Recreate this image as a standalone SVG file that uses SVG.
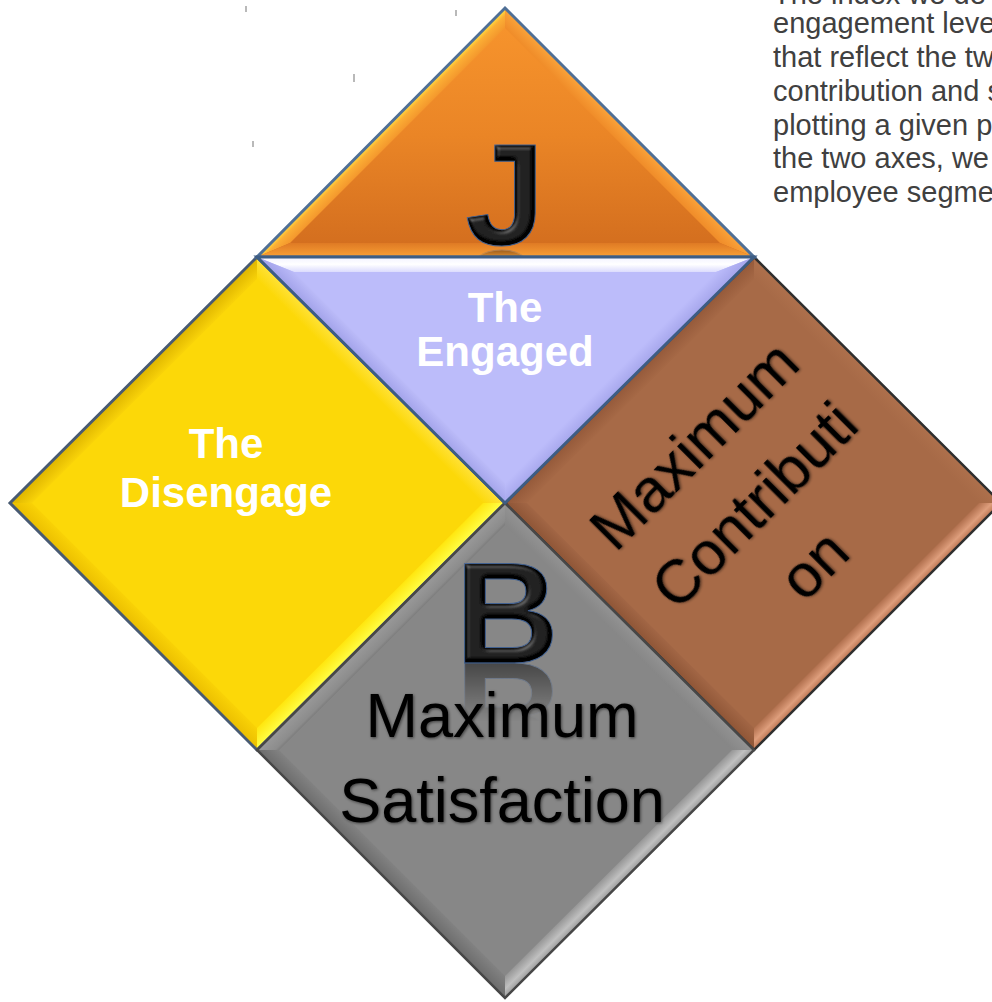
<svg xmlns="http://www.w3.org/2000/svg" xmlns:xlink="http://www.w3.org/1999/xlink" width="992" height="1002" viewBox="0 0 992 1002">
  <style>
    .lbl-w { font-family: "Liberation Sans", Arial, sans-serif; font-weight: bold; font-size: 42px; fill: #ffffff; text-anchor: middle; }
    .lbl-k { font-family: "Liberation Sans", Arial, sans-serif; font-size: 63px; fill: #000000; text-anchor: middle; }
    .lbl-r { font-family: "Liberation Sans", Arial, sans-serif; font-size: 61px; fill: #000000; text-anchor: middle; }
    .glyph { font-family: "Liberation Sans", Arial, sans-serif; font-weight: bold; font-size: 144px; text-anchor: middle; fill: #020202; stroke: #3f5f8f; stroke-width: 1; }
    .para { font-family: "Liberation Sans", Arial, sans-serif; font-size: 29px; fill: #404040; }
    .tick { stroke: #8a8a8a; stroke-width: 1.2; }
  </style>
  <defs>
    <!-- bevelled 3D letters -->
    <filter id="glyphBevel" x="-20%" y="-20%" width="140%" height="140%">
      <feGaussianBlur in="SourceAlpha" stdDeviation="2.5" result="blur"/>
      <feSpecularLighting in="blur" surfaceScale="4" specularConstant="0.8" specularExponent="20" lighting-color="#9a9a9a" result="spec">
        <feDistantLight azimuth="235" elevation="40"/>
      </feSpecularLighting>
      <feComposite in="spec" in2="SourceAlpha" operator="in" result="specIn"/>
      <feComposite in="SourceGraphic" in2="specIn" operator="arithmetic" k1="0" k2="1" k3="0.4" k4="0"/>
    </filter>
    <filter id="softShadow" x="-10%" y="-20%" width="120%" height="140%">
      <feGaussianBlur in="SourceAlpha" stdDeviation="1.6"/>
      <feOffset dx="1" dy="1" result="off"/>
      <feComponentTransfer in="off" result="sh"><feFuncA type="linear" slope="0.55"/></feComponentTransfer>
      <feMerge><feMergeNode in="sh"/><feMergeNode in="SourceGraphic"/></feMerge>
    </filter>
    <linearGradient id="fadeDown" x1="0" y1="0" x2="0" y2="1">
      <stop offset="0" stop-color="#ffffff" stop-opacity="0.6"/>
      <stop offset="1" stop-color="#ffffff" stop-opacity="0"/>
    </linearGradient>
    <mask id="maskJ" maskUnits="userSpaceOnUse" x="440" y="246" width="130" height="20">
      <rect x="440" y="246" width="130" height="14" fill="url(#fadeDown)"/>
    </mask>
    <mask id="maskB" maskUnits="userSpaceOnUse" x="440" y="662" width="140" height="70">
      <rect x="440" y="662" width="140" height="60" fill="url(#fadeDown)"/>
    </mask>

    <!-- orange triangle -->
    <linearGradient id="oBody" gradientUnits="userSpaceOnUse" x1="0" y1="28" x2="0" y2="243">
      <stop offset="0" stop-color="#F6932C"/>
      <stop offset="0.5" stop-color="#EA8526"/>
      <stop offset="1" stop-color="#D46F1F"/>
    </linearGradient>
    <linearGradient id="oLeft" gradientUnits="userSpaceOnUse" x1="381" y1="132.5" x2="391" y2="142.5">
      <stop offset="0" stop-color="#FFE040"/>
      <stop offset="0.35" stop-color="#FBAE35"/>
      <stop offset="1" stop-color="#F4962C"/>
    </linearGradient>
    <linearGradient id="oRight" gradientUnits="userSpaceOnUse" x1="629.5" y1="132.5" x2="619.6" y2="142.4">
      <stop offset="0" stop-color="#FAA33A"/>
      <stop offset="1" stop-color="#F08C29"/>
    </linearGradient>
    <linearGradient id="oBase" gradientUnits="userSpaceOnUse" x1="0" y1="243" x2="0" y2="257">
      <stop offset="0" stop-color="#DF7A24"/>
      <stop offset="1" stop-color="#F9A035"/>
    </linearGradient>

    <!-- lavender triangle -->
    <linearGradient id="lTop" gradientUnits="userSpaceOnUse" x1="0" y1="258" x2="0" y2="276">
      <stop offset="0" stop-color="#F4F4FF"/>
      <stop offset="0.35" stop-color="#FFFFFF"/>
      <stop offset="1" stop-color="#C9C9FC"/>
    </linearGradient>
    <linearGradient id="lLeft" gradientUnits="userSpaceOnUse" x1="381" y1="380" x2="391.6" y2="369.4">
      <stop offset="0" stop-color="#A2A2EA"/>
      <stop offset="1" stop-color="#BBBBF8"/>
    </linearGradient>
    <linearGradient id="lRight" gradientUnits="userSpaceOnUse" x1="629.5" y1="380" x2="618.9" y2="369.4">
      <stop offset="0" stop-color="#A6A6EC"/>
      <stop offset="1" stop-color="#BCBCFA"/>
    </linearGradient>

    <!-- yellow diamond faces -->
    <linearGradient id="yUL" x1=".5" y1=".5" x2=".545" y2=".545"><stop offset="0" stop-color="#DDB400"/><stop offset="1" stop-color="#F9D309"/></linearGradient>
    <linearGradient id="yUR" x1=".5" y1=".5" x2=".455" y2=".545"><stop offset="0" stop-color="#FFE23A"/><stop offset="1" stop-color="#FCD808"/></linearGradient>
    <linearGradient id="yLR" x1=".5" y1=".5" x2=".455" y2=".455"><stop offset="0" stop-color="#FFFF48"/><stop offset="1" stop-color="#FFE60E"/></linearGradient>
    <linearGradient id="yLL" x1=".5" y1=".5" x2=".545" y2=".455"><stop offset="0" stop-color="#EBBE00"/><stop offset="1" stop-color="#F9D206"/></linearGradient>

    <!-- brown diamond faces -->
    <linearGradient id="bUL" x1=".5" y1=".5" x2=".545" y2=".545"><stop offset="0" stop-color="#94593A"/><stop offset="1" stop-color="#A66946"/></linearGradient>
    <linearGradient id="bUR" x1=".5" y1=".5" x2=".455" y2=".545"><stop offset="0" stop-color="#AE704C"/><stop offset="1" stop-color="#A76A47"/></linearGradient>
    <linearGradient id="bLR" x1=".5" y1=".5" x2=".455" y2=".455"><stop offset="0" stop-color="#BC7652"/><stop offset="0.4" stop-color="#DE9E7C"/><stop offset="1" stop-color="#B06F4D"/></linearGradient>
    <linearGradient id="bLL" x1=".5" y1=".5" x2=".545" y2=".455"><stop offset="0" stop-color="#8E5536"/><stop offset="1" stop-color="#A26645"/></linearGradient>

    <!-- grey diamond faces -->
    <linearGradient id="gUL" x1=".5" y1=".5" x2=".545" y2=".545"><stop offset="0" stop-color="#999999"/><stop offset="0.8" stop-color="#8C8C8C"/><stop offset="1" stop-color="#7C7C7C"/></linearGradient>
    <linearGradient id="gUR" x1=".5" y1=".5" x2=".455" y2=".545"><stop offset="0" stop-color="#939393"/><stop offset="1" stop-color="#868686"/></linearGradient>
    <linearGradient id="gLR" x1=".5" y1=".5" x2=".455" y2=".455"><stop offset="0" stop-color="#9C9C9C"/><stop offset="0.4" stop-color="#C0C0C0"/><stop offset="1" stop-color="#959595"/></linearGradient>
    <linearGradient id="gLL" x1=".5" y1=".5" x2=".545" y2=".455"><stop offset="0" stop-color="#6C6C6C"/><stop offset="1" stop-color="#828282"/></linearGradient>
  </defs>

  <!-- paragraph at the top right -->
  <g id="caption">
    <text class="para" x="773" y="4">The index we de</text>
    <text class="para" x="773" y="33">engagement leve</text>
    <text class="para" x="773" y="67">that reflect the tw</text>
    <text class="para" x="773" y="101">contribution and s</text>
    <text class="para" x="773" y="135">plotting a given p</text>
    <text class="para" x="773" y="168">the two axes, we</text>
    <text class="para" x="773" y="202">employee segme</text>
  </g>

  <!-- stray marks -->
  <g id="marks">
    <line class="tick" x1="246" y1="6" x2="246" y2="12"/>
    <line class="tick" x1="456" y1="10" x2="456" y2="16"/>
    <line class="tick" x1="354" y1="74" x2="354" y2="82"/>
    <line class="tick" x1="253" y1="141" x2="253" y2="147"/>
  </g>

  <!-- left diamond: The Disengage -->
  <g id="disengaged">
    <polygon points="257,257 505,503 257,750 10,503" fill="#FCD808"/>
    <polygon points="10,503 257,257 257,279 32,503" fill="url(#yUL)"/>
    <polygon points="257,257 505,503 483,503 257,279" fill="url(#yUR)"/>
    <polygon points="505,503 257,750 257,728 483,503" fill="url(#yLR)"/>
    <polygon points="257,750 10,503 32,503 257,728" fill="url(#yLL)"/>
    <polygon points="257,257 505,503 257,750 10,503" fill="none" stroke="#485A72" stroke-width="3" stroke-linejoin="miter"/>
    <text class="lbl-w" x="226" y="458">The</text>
    <text class="lbl-w" x="226" y="507">Disengage</text>
  </g>

  <!-- right diamond: Maximum Contribution -->
  <g id="contribution">
    <polygon points="754,257 1001,503 754,750 505,503" fill="#A76A47"/>
    <polygon points="505,503 754,257 754,279 527,503" fill="url(#bUL)"/>
    <polygon points="754,257 1001,503 979,503 754,279" fill="url(#bUR)"/>
    <polygon points="1001,503 754,750 754,728 979,503" fill="url(#bLR)"/>
    <polygon points="754,750 505,503 527,503 754,728" fill="url(#bLL)"/>
    <polygon points="754,257 1001,503 754,750 505,503" fill="none" stroke="#2E2E2E" stroke-width="2.5"/>
    <g transform="rotate(-45 752 503)" filter="url(#softShadow)">
      <text class="lbl-r" x="752" y="442">Maximum</text>
      <text class="lbl-r" x="752" y="527">Contributi</text>
      <text class="lbl-r" x="752" y="611">on</text>
    </g>
  </g>

  <!-- bottom diamond: Maximum Satisfaction -->
  <g id="satisfaction">
    <polygon points="505,503 754,750 505,998 257,750" fill="#878787"/>
    <polygon points="257,750 505,503 505,525 279,750" fill="url(#gUL)"/>
    <polygon points="505,503 754,750 732,750 505,525" fill="url(#gUR)"/>
    <polygon points="754,750 505,998 505,976 732,750" fill="url(#gLR)"/>
    <polygon points="505,998 257,750 279,750 505,976" fill="url(#gLL)"/>
    <polygon points="505,503 754,750 505,998 257,750" fill="none" stroke="#474747" stroke-width="2.5"/>
    <text id="glyphB" class="glyph" x="507" y="663" filter="url(#glyphBevel)">B</text>
    <g mask="url(#maskB)" opacity="0.8">
      <use xlink:href="#glyphB" transform="translate(0 1326) scale(1 -1)"/>
    </g>
    <g filter="url(#softShadow)">
      <text class="lbl-k" x="502" y="737">Maximum</text>
      <text class="lbl-k" x="502" y="822">Satisfaction</text>
    </g>
  </g>

  <!-- top triangle: J -->
  <g id="top-j">
    <polygon points="505,8 754,257 257,257" fill="url(#oBody)"/>
    <polygon points="505,8 257,257 290,243 505,28" fill="url(#oLeft)"/>
    <polygon points="505,8 754,257 720,243 505,28" fill="url(#oRight)"/>
    <polygon points="257,257 754,257 720,243 290,243" fill="url(#oBase)"/>
    <polygon points="505,8 754,257 257,257" fill="none" stroke="#4F6F96" stroke-width="3"/>
    <text id="glyphJ" class="glyph" x="505" y="245" filter="url(#glyphBevel)">J</text>
    <g mask="url(#maskJ)" opacity="0.8">
      <use xlink:href="#glyphJ" transform="translate(0 496) scale(1 -1)"/>
    </g>
  </g>

  <!-- middle triangle: The Engaged -->
  <g id="engaged">
    <polygon points="257,257 754,257 505,503" fill="#BCBCFA"/>
    <polygon points="257,257 754,257 716,272 294,272" fill="url(#lTop)"/>
    <polygon points="257,257 294,272 505,483 505,503" fill="url(#lLeft)"/>
    <polygon points="754,257 716,272 505,483 505,503" fill="url(#lRight)"/>
    <polygon points="257,257 754,257 505,503" fill="none" stroke="#3D5D84" stroke-width="3"/>
    <text class="lbl-w" x="505" y="322">The</text>
    <text class="lbl-w" x="505" y="366">Engaged</text>
  </g>
</svg>
